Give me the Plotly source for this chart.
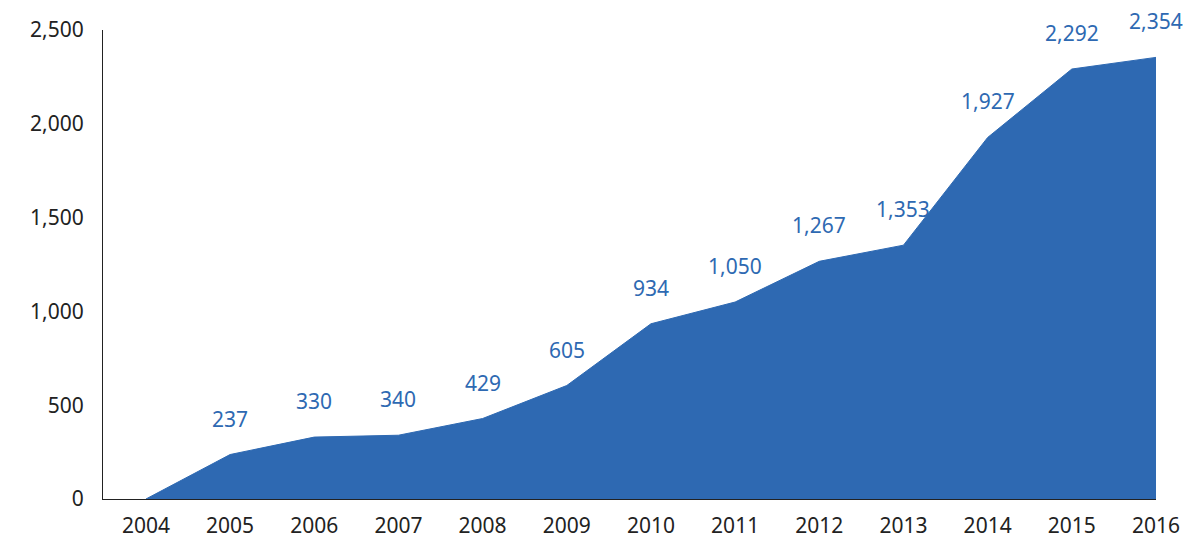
import plotly.graph_objects as go

years = list(range(2004, 2017))
values = [0, 237, 330, 340, 429, 605, 934, 1050, 1267, 1353, 1927, 2292, 2354]

BLUE = "#2E69B2"
FONT = "Source Sans Pro, Noto Sans, sans-serif"

fig = go.Figure()
fig.add_trace(go.Scatter(
    x=years, y=values, mode="lines", fill="tozeroy",
    fillcolor=BLUE, line=dict(color=BLUE, width=1), hoverinfo="skip",
))

# value labels above each point (2004 has none)
for yr, v in zip(years[1:], values[1:]):
    fig.add_annotation(x=yr, y=v, text=f"{v:,}", showarrow=False, yshift=36,
                       font=dict(size=21, color=BLUE, family=FONT))

fig.update_layout(
    width=1200, height=542,
    margin=dict(l=95, r=52, t=22, b=51, autoexpand=False),
    plot_bgcolor="white", paper_bgcolor="white",
    showlegend=False,
    font=dict(family=FONT, size=21, color="#222"),
)
fig.update_xaxes(
    range=[2003.49, 2016], tickvals=years, showgrid=False, zeroline=False,
    showline=True, linecolor="#222", linewidth=1, ticks="", ticklabelstandoff=8,
    automargin=False,
)
fig.update_yaxes(
    range=[0, 2500], tickvals=[0, 500, 1000, 1500, 2000, 2500],
    tickformat=",", showgrid=False, zeroline=False,
    showline=True, linecolor="#222", linewidth=1, ticks="", ticklabelstandoff=14,
    automargin=False,
)

fig.write_html("out.html")
